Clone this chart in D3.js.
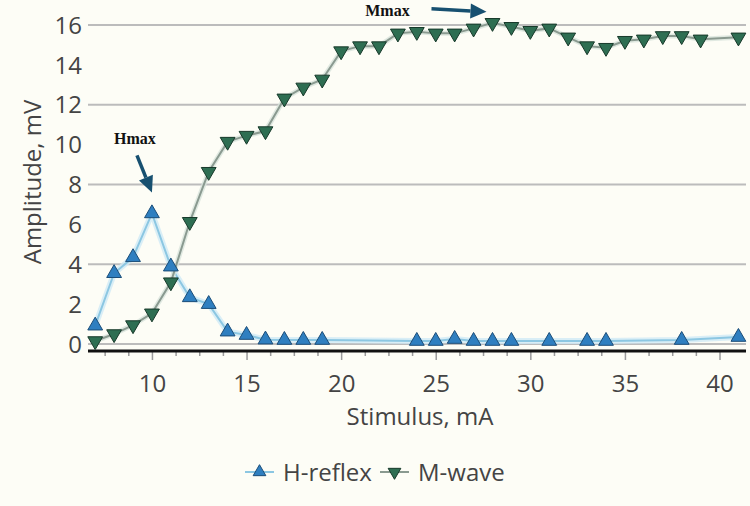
<!DOCTYPE html>
<html>
<head>
<meta charset="utf-8">
<script src="https://cdn.jsdelivr.net/npm/d3@7/dist/d3.min.js"></script>
<style>
  body { margin: 0; background: #fdfdf6; }
  svg text { font-family: "Open Sans", "Noto Sans", sans-serif; fill: #444; }
</style>
</head>
<body>
<div id="chart-area"></div>
<script>
// data
const hStim = [7, 8, 9, 10, 11, 12, 13, 14, 15, 16, 17, 18, 19, 24, 25, 26, 27, 28, 29, 31, 33, 34, 38, 41];
const hAmp = [0.92, 3.55, 4.35, 6.55, 3.88, 2.34, 2.0, 0.62, 0.45, 0.22, 0.2, 0.2, 0.2, 0.15, 0.15, 0.25, 0.15, 0.15, 0.15, 0.15, 0.15, 0.15, 0.2, 0.35];
const mStim = [7, 8, 9, 10, 11, 12, 13, 14, 15, 16, 17, 18, 19, 20, 21, 22, 23, 24, 25, 26, 27, 28, 29, 30, 31, 32, 33, 34, 35, 36, 37, 38, 39, 41];
const mAmp = [0.15, 0.5, 0.95, 1.54, 3.1, 6.13, 8.64, 10.15, 10.45, 10.68, 12.32, 12.87, 13.27, 14.69, 14.94, 14.94, 15.58, 15.66, 15.58, 15.58, 15.83, 16.11, 15.91, 15.71, 15.83, 15.38, 14.94, 14.86, 15.21, 15.28, 15.45, 15.45, 15.28, 15.38];
const yTicks = [0, 2, 4, 6, 8, 10, 12, 14, 16];
const yGrid = [0, 4, 8, 12, 16];
const xMajor = [10, 15, 20, 25, 30, 35, 40];
const xMinor = d3.range(7.5, 41, 1.25);
const seriesNames = ["H-reflex", "M-wave"];

const W = 750, H = 506;
const svg = d3.select("#chart-area")
    .append("svg")
    .attr("width", W)
    .attr("height", H);

svg.append("rect").attr("width", W).attr("height", H).attr("fill", "#fdfdf6");

const x = d3.scaleLinear().domain([6.62, 41.4]).range([88, 746]);
const y = d3.scaleLinear().domain([-0.35, 16]).range([351, 25]);

// gridlines
svg.selectAll(".grid")
    .data(yGrid)
    .enter().append("line")
    .attr("x1", 88).attr("x2", 746)
    .attr("y1", d => y(d)).attr("y2", d => y(d))
    .attr("stroke", "#bcbcbc")
    .attr("stroke-width", 2);

// y labels
svg.selectAll(".ylab")
    .data(yTicks)
    .enter().append("text")
    .attr("x", 82)
    .attr("y", d => y(d))
    .attr("dy", "0.36em")
    .attr("text-anchor", "end")
    .style("font-size", "24px")
    .text(d => d);

// x axis
const xAxis = d3.axisBottom(x)
    .tickValues(xMinor)
    .tickSize(5)
    .tickSizeOuter(0)
    .tickFormat(d => xMajor.includes(d) ? d : "");
const gx = svg.append("g").attr("transform", "translate(0,351)").call(xAxis);
gx.select(".domain").remove();
gx.selectAll(".tick line").attr("stroke", "#9a9a9a").attr("stroke-width", 1.5)
    .attr("y2", d => xMajor.includes(d) ? 9 : 5);
gx.selectAll(".tick text").style("font-size", "24px").attr("y", 24).attr("fill", "#444");
svg.append("line")
    .attr("x1", 88).attr("x2", 746)
    .attr("y1", 351).attr("y2", 351)
    .attr("stroke", "#111").attr("stroke-width", 3);

// axis titles
svg.append("text")
    .attr("transform", "translate(41,182) rotate(-90)")
    .attr("text-anchor", "middle")
    .style("font-size", "24px")
    .text("Amplitude, mV");
svg.append("text")
    .attr("x", 420).attr("y", 425)
    .attr("text-anchor", "middle")
    .style("font-size", "24px")
    .text("Stimulus, mA");

// lines
const hData = hStim.map((s, i) => [s, hAmp[i]]);
const mData = mStim.map((s, i) => [s, mAmp[i]]);
const line = d3.line().x(d => x(d[0])).y(d => y(d[1]));

svg.append("path").datum(hData).attr("d", line)
    .attr("fill", "none").attr("stroke", "#cfeaf6").attr("stroke-width", 6).attr("opacity", 0.8);
svg.append("path").datum(hData).attr("d", line)
    .attr("fill", "none").attr("stroke", "#8cc7e2").attr("stroke-width", 2);
svg.append("path").datum(mData).attr("d", line)
    .attr("fill", "none").attr("stroke", "#d8e4dc").attr("stroke-width", 5).attr("opacity", 0.8);
svg.append("path").datum(mData).attr("d", line)
    .attr("fill", "none").attr("stroke", "#8a9a90").attr("stroke-width", 2);

// markers
const triUp = d3.symbol().type(d3.symbolTriangle).size(95);
svg.selectAll(".hpt")
    .data(hData)
    .enter().append("path")
    .attr("d", triUp)
    .attr("transform", d => "translate(" + x(d[0]) + "," + y(d[1]) + ")")
    .attr("fill", "#2f7fc0")
    .attr("stroke", "#1b4d78")
    .attr("stroke-width", 1);
svg.selectAll(".mpt")
    .data(mData)
    .enter().append("path")
    .attr("d", triUp)
    .attr("transform", d => "translate(" + x(d[0]) + "," + y(d[1]) + ") rotate(180)")
    .attr("fill", "#2e6e52")
    .attr("stroke", "#17392a")
    .attr("stroke-width", 1);

// annotations
const arrowCol = "#175070";
function arrow(x1, y1, x2, y2) {
    const a = Math.atan2(y2 - y1, x2 - x1);
    const L = 16, hw = 7.5;
    const bx = x2 - L * Math.cos(a), by = y2 - L * Math.sin(a);
    svg.append("line")
        .attr("x1", x1).attr("y1", y1).attr("x2", bx).attr("y2", by)
        .attr("stroke", arrowCol).attr("stroke-width", 3.5);
    svg.append("path")
        .attr("d", "M" + x2 + "," + y2 +
            "L" + (bx + hw * Math.sin(a)) + "," + (by - hw * Math.cos(a)) +
            "L" + (bx - hw * Math.sin(a)) + "," + (by + hw * Math.cos(a)) + "Z")
        .attr("fill", arrowCol);
}

const hx = x(10), hy = y(6.55);
arrow(hx - 15, hy - 58, hx, hy - 21);
svg.append("text")
    .attr("x", hx - 17).attr("y", hy - 69)
    .attr("text-anchor", "middle")
    .style("font-family", "'Liberation Serif', serif")
    .style("font-weight", "bold")
    .style("font-size", "16px")
    .style("fill", "#111")
    .text("Hmax");

const mx = x(28), my = y(16.11);
arrow(mx - 61, my - 14, mx - 6, my - 11);
svg.append("text")
    .attr("x", mx - 105).attr("y", my - 7)
    .attr("text-anchor", "middle")
    .style("font-family", "'Liberation Serif', serif")
    .style("font-weight", "bold")
    .style("font-size", "16px")
    .style("fill", "#111")
    .text("Mmax");

// legend
const legend = svg.append("g");
const lg = [
    { name: seriesNames[0], x0: 245, tx: 283, fill: "#2f7fc0", stroke: "#1b4d78", line: "#8cc7e2", rot: 0 },
    { name: seriesNames[1], x0: 380, tx: 418, fill: "#2e6e52", stroke: "#17392a", line: "#8a9a90", rot: 180 }
];
lg.forEach(function (d) {
    legend.append("line")
        .attr("x1", d.x0).attr("x2", d.x0 + 29)
        .attr("y1", 472).attr("y2", 472)
        .attr("stroke", d.line).attr("stroke-width", 2);
    legend.append("path")
        .attr("d", d3.symbol().type(d3.symbolTriangle).size(70))
        .attr("transform", "translate(" + (d.x0 + 14.5) + ",472) rotate(" + d.rot + ")")
        .attr("fill", d.fill).attr("stroke", d.stroke);
    legend.append("text")
        .attr("x", d.tx).attr("y", 481)
        .style("font-size", "24px")
        .text(d.name);
});
</script>
</body>
</html>
